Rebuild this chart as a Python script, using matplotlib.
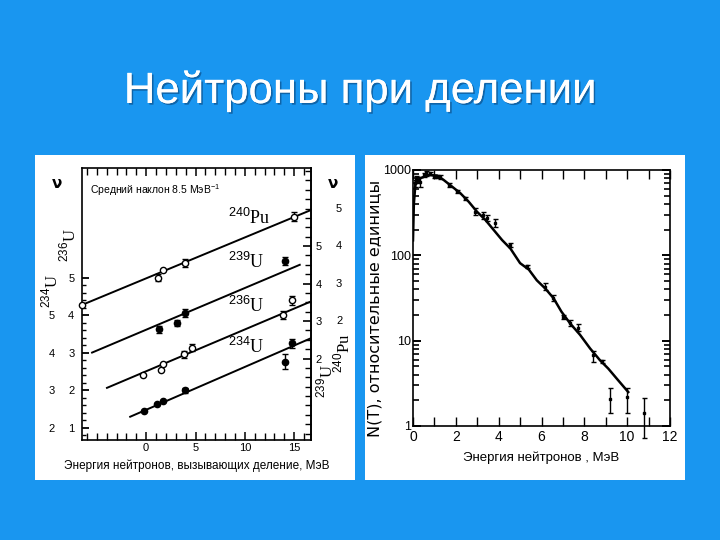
import matplotlib
matplotlib.use('Agg')
import matplotlib.pyplot as plt
from matplotlib import patheffects
from matplotlib.patches import Rectangle
from matplotlib.ticker import FixedLocator, MultipleLocator, LogLocator, NullFormatter

plt.rcParams['font.family'] = ['Liberation Sans', 'DejaVu Sans']
plt.rcParams['mathtext.fontset'] = 'custom'
plt.rcParams['mathtext.rm'] = 'Liberation Serif'
plt.rcParams['mathtext.sf'] = 'Liberation Sans'

BLUE = '#1996f0'
W, H = 720, 540

# left panel: nu vs neutron energy, one common axis, shifted scales
# (values are in the units of the inner left scale)
pu240_x = [-6.5, 1.23, 1.75, 3.94, 15.0]
pu240_y = [4.28, 5.01, 5.21, 5.40, 6.63]
pu240_err = [0.0, 0.10, 0.0, 0.10, 0.12]
pu240_fit_x = [-6.5, 16.7]
pu240_fit_y = [4.28, 6.81]

u239_x = [1.35, 3.10, 3.94, 14.1]
u239_y = [3.63, 3.79, 4.07, 5.45]
u239_err = [0.10, 0.08, 0.10, 0.10]
u239_fit_x = [-5.48, 15.56]
u239_fit_y = [3.01, 5.35]

u236_x = [-0.27, 1.52, 1.68, 3.84, 4.60, 13.9, 14.8]
u236_y = [2.41, 2.55, 2.70, 2.96, 3.14, 4.01, 4.41]
u236_err = [0.0, 0.0, 0.0, 0.10, 0.10, 0.10, 0.12]
u236_fit_x = [-3.97, 16.67]
u236_fit_y = [2.07, 4.37]

u234_x = [-0.17, 1.08, 1.75, 3.94, 14.04, 14.8]
u234_y = [1.45, 1.63, 1.73, 2.00, 2.77, 3.26]
u234_err = [0.0, 0.0, 0.0, 0.06, 0.20, 0.12]
u234_fit_x = [-1.62, 16.67]
u234_fit_y = [1.30, 3.39]

nu_xticks = [0, 5, 10, 15]
nu_ticks = [1, 2, 3, 4, 5]
side_ticks = [2, 3, 4, 5]
# scale shifts relative to the inner left scale
shift_234 = 1.0
shift_239 = -0.85
shift_240 = -1.87

# right panel: fission neutron spectrum
spec_E = [0.0, 0.04, 0.11, 0.34, 0.73, 1.12, 1.43, 1.82, 2.21, 2.60, 2.99,
          3.38, 3.77, 4.16, 4.55, 5.00, 5.41, 5.78, 6.17, 6.56, 6.93, 7.33,
          7.80, 8.27, 8.73, 9.12, 9.51, 10.05]
spec_N = [150, 400, 670, 800, 875, 860, 765, 640, 535, 425, 324,
          260, 198, 151, 120, 81, 68, 51, 41, 31.5, 21.9, 16,
          11.7, 8.1, 5.9, 4.7, 3.6, 2.5]

pts_E = [0.08, 0.14, 0.21, 0.34, 0.50, 0.60, 0.81, 0.96, 1.12, 1.27,
         1.66, 2.05, 2.44, 2.90, 3.29, 3.45, 3.84, 4.54, 5.31, 6.17,
         6.56, 6.99, 7.33, 7.72, 8.39, 8.81, 9.20, 10.0, 10.78]
pts_N = [700, 790, 760, 730, 880, 915, 915, 840, 840, 830,
         670, 560, 465, 324, 296, 272, 238, 132, 74, 43,
         31.5, 19, 16, 14, 6.8, 5.7, 2.06, 2.2, 1.41]
pts_lo = [640, 740, 700, 640, 830, 860, 870, 800, 800, 790,
          640, 535, 445, 295, 270, 250, 215, 125, 71, 39,
          29, 18, 15, 13, 5.6, 5.5, 1.41, 1.41, 0.72]
pts_hi = [760, 840, 820, 830, 930, 970, 960, 880, 880, 870,
          700, 585, 485, 355, 325, 300, 265, 140, 77, 48,
          34, 20, 17.5, 15.5, 7.6, 5.9, 2.77, 2.77, 2.11]

spec_xticks = [0, 2, 4, 6, 8, 10, 12]
spec_yticks = [1, 10, 100, 1000]


def px_rect(x0, y0, x1, y1):
    return [x0 / W, 1 - y1 / H, (x1 - x0) / W, (y1 - y0) / H]


def px_pt(x, y):
    return x / W, 1 - y / H


fig = plt.figure(figsize=(7.2, 5.4), dpi=100)
fig.patch.set_facecolor(BLUE)

for x0, x1 in [(35, 355), (365, 685)]:
    fig.add_artist(Rectangle((x0 / W, 1 - 480 / H), (x1 - x0) / W, 325 / H,
                             transform=fig.transFigure, fc='white',
                             ec='none', zorder=-1))

title = fig.text(0.5, 1 - 103 / H, 'Нейтроны при делении', ha='center',
                 va='baseline', color='white', fontsize=31.5)
title.set_path_effects([patheffects.withSimplePatchShadow(
    offset=(1.2, -1.2), shadow_rgbFace='#0b4f8a', alpha=0.7),
    patheffects.Normal()])

# ---------- left panel ----------
ax1 = fig.add_axes(px_rect(82, 168, 311, 440))
ax1.set_xlim(-6.5, 16.7)
ax1.set_ylim(0.68, 7.93)
for s in ax1.spines.values():
    s.set_linewidth(1.2)

series = [
    (pu240_x, pu240_y, pu240_err, pu240_fit_x, pu240_fit_y, 'white'),
    (u239_x, u239_y, u239_err, u239_fit_x, u239_fit_y, 'black'),
    (u236_x, u236_y, u236_err, u236_fit_x, u236_fit_y, 'white'),
    (u234_x, u234_y, u234_err, u234_fit_x, u234_fit_y, 'black'),
]
for xs, ys, errs, fx, fy, face in series:
    ax1.plot(fx, fy, color='black', lw=1.4, zorder=2)
    ax1.errorbar(xs, ys, yerr=errs, fmt='o', ms=4.5, mfc=face, mec='black',
                 mew=1.0, ecolor='black', elinewidth=1.0, capsize=2,
                 zorder=3, clip_on=False)

ax1.xaxis.set_major_locator(FixedLocator(nu_xticks))
ax1.xaxis.set_minor_locator(MultipleLocator(1))
ax1.tick_params(axis='x', which='both', direction='in', top=True,
                bottom=True, labelsize=8, pad=2.5)
ax1.tick_params(axis='x', which='major', length=6, width=1.1)
ax1.tick_params(axis='x', which='minor', length=5, width=1.0)

ax1.yaxis.set_major_locator(FixedLocator(nu_ticks))
ax1.yaxis.set_minor_locator(FixedLocator([0.8 + 0.2 * i for i in range(22)]))
ax1.tick_params(axis='y', which='both', direction='in', left=True,
                right=False, labelsize=8, pad=5.5)
ax1.tick_params(axis='y', which='major', length=5, width=1.3)
ax1.tick_params(axis='y', which='minor', length=3, width=1.0)

sec234 = ax1.secondary_yaxis(-0.109, functions=(lambda y: y + shift_234,
                                                lambda y: y - shift_234))
sec234.set_yticks(side_ticks)
sec234.spines['left'].set_visible(False)
sec234.tick_params(length=0, pad=1.5, labelsize=8)

sec239 = ax1.secondary_yaxis('right', functions=(lambda y: y + shift_239,
                                                 lambda y: y - shift_239))
sec239.set_yticks(side_ticks)
sec239.yaxis.set_minor_locator(MultipleLocator(0.25))
sec239.spines['right'].set_linewidth(1.2)
sec239.tick_params(which='both', direction='in', pad=3.5, labelsize=8)
sec239.tick_params(which='major', length=6, width=1.2)
sec239.tick_params(which='minor', length=4, width=1.0)

sec240 = ax1.secondary_yaxis(1.10, functions=(lambda y: y + shift_240,
                                              lambda y: y - shift_240))
sec240.set_yticks(side_ticks)
sec240.spines['right'].set_visible(False)
sec240.tick_params(length=0, pad=1.5, labelsize=8)

ax1.set_xlabel('Энергия нейтронов, вызывающих деление, МэВ', fontsize=8.5,
               labelpad=4)
ax1.text(0.035, 0.919, r'Средний наклон 8.5 МэВ$^{\mathsf{-1}}$',
         transform=ax1.transAxes, fontsize=7.5, va='center')

nuc = r'$^{\mathsf{%s}}\mathrm{%s}$'
ax1.text(8.28, 6.44, nuc % ('240', 'Pu'), fontsize=13)
ax1.text(8.28, 5.27, nuc % ('239', 'U'), fontsize=13)
ax1.text(8.28, 4.09, nuc % ('236', 'U'), fontsize=13)
ax1.text(8.28, 3.00, nuc % ('234', 'U'), fontsize=13)

for (px, py), mass, el in [((68, 245), '236', 'U'), ((50, 291), '234', 'U'),
                           ((325, 381), '239', 'U'), ((342, 353), '240', 'Pu')]:
    fig.text(*px_pt(px, py), nuc % (mass, el), rotation=90, fontsize=12,
             ha='center', va='center')

for px in (57, 333):
    fig.text(*px_pt(px, 184), 'ν', fontsize=11, fontweight='bold',
             ha='center', va='center', family=['DejaVu Sans'])

# ---------- right panel ----------
ax2 = fig.add_axes(px_rect(413, 170, 670, 426))
ax2.set_yscale('log')
ax2.set_xlim(0, 12)
ax2.set_ylim(1, 1000)
for s in ax2.spines.values():
    s.set_linewidth(1.2)

ax2.plot(spec_E, spec_N, color='black', lw=1.8, zorder=2)
ax2.errorbar(pts_E, pts_N,
             yerr=[[n - lo for n, lo in zip(pts_N, pts_lo)],
                   [hi - n for n, hi in zip(pts_N, pts_hi)]],
             fmt='s', ms=2, color='black', elinewidth=1.0, capsize=1.8,
             zorder=3, clip_on=False)

ax2.set_xticks(spec_xticks)
ax2.xaxis.set_minor_locator(MultipleLocator(1))
ax2.tick_params(axis='x', which='both', direction='in', top=True,
                bottom=True, length=6.5, width=1.0, labelsize=10, pad=3)
ax2.set_yticks(spec_yticks, labels=[str(v) for v in spec_yticks])
ax2.yaxis.set_minor_locator(LogLocator(base=10, subs=range(2, 10)))
ax2.yaxis.set_minor_formatter(NullFormatter())
ax2.tick_params(axis='y', which='both', direction='in', left=True,
                right=True, labelsize=9, pad=1.5)
ax2.tick_params(axis='y', which='major', length=6, width=1.4)
ax2.tick_params(axis='y', which='minor', length=4, width=1.2)

ax2.set_xlabel('Энергия нейтронов , МэВ', fontsize=9.5, labelpad=5)
ax2.set_ylabel('N(T), относительные единицы', fontsize=11.5,
               family=['DejaVu Sans'])
ax2.yaxis.set_label_coords(-0.117, 0.461)

fig.savefig('out.png', dpi=100, facecolor=BLUE)
